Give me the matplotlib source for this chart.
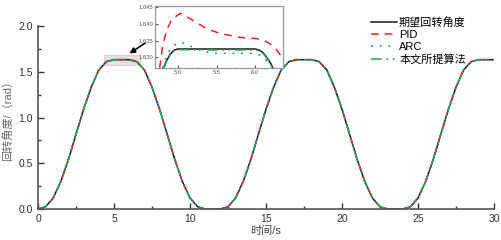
import numpy as np
import matplotlib
matplotlib.use("Agg")
import matplotlib.pyplot as plt
from matplotlib.patches import Rectangle

plt.rcParams["font.family"] = ["Liberation Sans", "Noto Sans CJK SC"]

t_main = np.linspace(0, 30, 61)
theta_ref = [
    0.000, 0.025, 0.120, 0.300, 0.540, 0.817, 1.090, 1.330, 1.520, 1.610,
    1.632, 1.632, 1.632, 1.610, 1.520, 1.330, 1.090, 0.817, 0.540, 0.300,
    0.120, 0.025, 0.000, 0.000, 0.000, 0.025, 0.120, 0.300, 0.540, 0.817,
    1.090, 1.330, 1.520, 1.610, 1.632, 1.632, 1.632, 1.610, 1.520, 1.330,
    1.090, 0.817, 0.540, 0.300, 0.120, 0.025, 0.000, 0.000, 0.000, 0.025,
    0.120, 0.300, 0.540, 0.817, 1.090, 1.330, 1.520, 1.610, 1.632, 1.632,
    1.632,
]
# at full scale the three controllers sit on the reference curve
theta_pid = theta_ref
theta_arc = theta_ref
theta_ours = theta_ref

# inset detail around the first plateau
ins_t_ref = [4.80, 4.85, 4.90, 4.95, 5.00, 5.50, 6.00, 6.05, 6.10, 6.15, 6.20, 6.24]
ins_ref = [1.6262, 1.6290, 1.6310, 1.6322, 1.6325, 1.6325, 1.6325, 1.6322, 1.6314, 1.6300, 1.6282, 1.6264]
ins_t_ours = [4.80, 4.85, 4.90, 4.95, 5.00, 5.50, 6.00, 6.05, 6.10, 6.15, 6.20, 6.24]
ins_ours = [1.6260, 1.6288, 1.6308, 1.6320, 1.6323, 1.6322, 1.6322, 1.6320, 1.6312, 1.6298, 1.6280, 1.6262]
ins_t_pid = [4.76, 4.80, 4.85, 4.92, 5.03, 5.20, 5.37, 5.55, 5.80, 6.02, 6.12, 6.19, 6.27, 6.34]
ins_pid = [1.6268, 1.6335, 1.6381, 1.6415, 1.6432, 1.6410, 1.6386, 1.6371, 1.6360, 1.6356, 1.6350, 1.6341, 1.6325, 1.6302]
ins_t_arc = [4.80, 4.86, 4.92, 5.00, 5.09, 5.18, 5.33, 5.46, 6.00, 6.08, 6.15, 6.22]
ins_arc = [1.6268, 1.6310, 1.6332, 1.6343, 1.6343, 1.6331, 1.6317, 1.6312, 1.6312, 1.6305, 1.6290, 1.6270]

labels = ["期望回转角度", "PID", "ARC", "本文所提算法"]
colors = ["#1a1a1a", "#f0202a", "#2277dd", "#1fa855"]
styles = ["-", (0, (5, 4)), (0, (1.2, 4.5)), (0, (7, 3, 1.2, 3, 1.2, 3))]

fig = plt.figure(figsize=(5.02, 2.40), dpi=100)
ax = fig.add_axes([38 / 502, 31 / 240, 456 / 502, 183 / 240])

series = [theta_ref, theta_pid, theta_arc, theta_ours]
for y, lab, c, ls in zip(series, labels, colors, styles):
    ax.plot(t_main, y, color=c, ls=ls, lw=1.1, label=lab)

ax.set_xlim(0, 30)
ax.set_ylim(0, 2.0)
ax.set_xticks(np.arange(0, 31, 5))
ax.set_xticks(np.arange(2.5, 30, 5), minor=True)
ax.set_yticks(np.arange(0, 2.01, 0.5))
ax.set_yticks(np.arange(0.25, 2.0, 0.5), minor=True)
ax.set_yticklabels(["0.0", "0.5", "1.0", "1.5", "2.0"])
ax.tick_params(direction="in", which="both", labelsize=7.5, width=1, colors="#333333")
ax.tick_params(which="major", length=4.5)
ax.tick_params(which="minor", length=2.5)
for s in ["top", "right"]:
    ax.spines[s].set_visible(False)
for s in ["left", "bottom"]:
    ax.spines[s].set_color("#555555")
    ax.spines[s].set_linewidth(1.2)

ax.set_xlabel("时间/s", fontsize=8, color="#444444", labelpad=1)
ax.set_ylabel("回转角度/（rad）", fontsize=8, color="#666666", labelpad=4)

ax.legend(loc="upper left", bbox_to_anchor=(0.72, 1.075), frameon=False,
          fontsize=8, handlelength=2.4, handletextpad=0.15, labelspacing=0.2,
          borderaxespad=0)

# zoom window and arrow
ax.add_patch(Rectangle((4.35, 1.575), 2.35, 0.11, facecolor="#d0d0d0", alpha=0.6,
                       edgecolor="#f0b0b0", lw=0.8, zorder=0))
ax.annotate("", xy=(5.86, 1.683), xytext=(7.2, 1.83),
            arrowprops=dict(arrowstyle="-|>", color="black", lw=1.2, mutation_scale=8))

# inset
axi = fig.add_axes([155 / 502, 172 / 240, 128 / 502, 62 / 240])
axi.plot(ins_t_ref, ins_ref, color=colors[0], ls="-", lw=1.1)
axi.plot(ins_t_pid, ins_pid, color=colors[1], ls=styles[1], lw=1.1)
axi.plot(ins_t_arc, ins_arc, color=colors[2], ls=styles[2], lw=1.1)
axi.plot(ins_t_ours, ins_ours, color=colors[3], ls=styles[3], lw=1.1)
axi.set_xlim(4.70, 6.36)
axi.set_ylim(1.6268, 1.6454)
axi.set_xticks([5.0, 5.5, 6.0])
axi.set_xticklabels(["5.0", "5.5", "6.0"])
axi.set_xticks([5.25, 5.75, 6.25], minor=True)
axi.set_yticks([1.630, 1.635, 1.640, 1.645])
axi.set_yticklabels(["1.630", "1.635", "1.640", "1.645"])
axi.tick_params(direction="in", which="both", labelsize=4.2, colors="#555555", pad=1.5)
axi.tick_params(which="major", length=2)
axi.tick_params(which="minor", length=1)
for s in axi.spines.values():
    s.set_color("#999999")
    s.set_linewidth(0.9)

fig.savefig("out.png", dpi=100)
